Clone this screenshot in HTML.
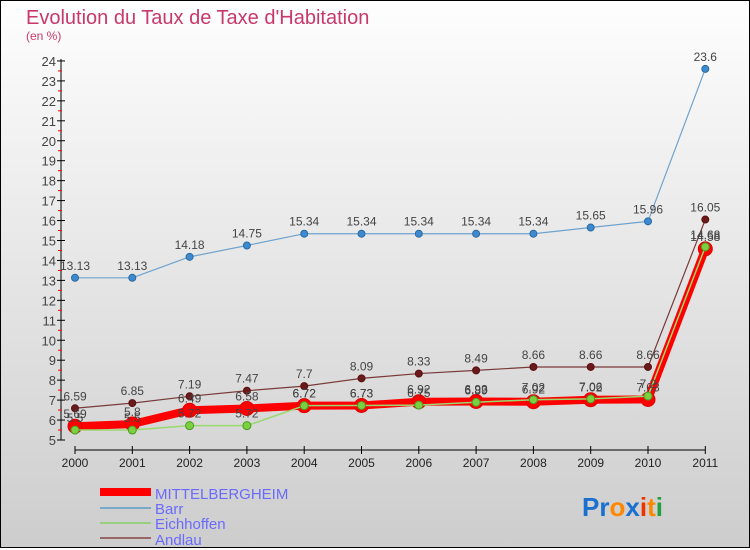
<!DOCTYPE html>
<html><head><meta charset="utf-8"><style>
body{margin:0}
#c{width:750px;height:550px;position:relative;overflow:hidden}
text{font-family:"Liberation Sans",sans-serif}
</style></head><body>
<div id="c">
<svg id="s" width="750" height="550" xmlns="http://www.w3.org/2000/svg">
<defs><linearGradient id="bg" x1="0" y1="0" x2="0" y2="1"><stop offset="0" stop-color="#fefefe"/><stop offset="1" stop-color="#cdcdcd"/></linearGradient></defs>
<rect x="0.5" y="0.5" width="749" height="547" fill="url(#bg)" stroke="#000"/>
<text x="26" y="24" font-size="20" fill="#c8386a">Evolution du Taux de Taxe d'Habitation</text>
<text x="26" y="40" font-size="12" fill="#c8386a">(en %)</text>
<g id="axes"></g><g id="series"></g>
<g>
<rect x="100" y="488" width="51" height="8" fill="#f00"/>
<text x="155" y="499" font-size="15" fill="#6a6aff">MITTELBERGHEIM</text>
<rect x="100" y="507" width="51" height="2" fill="#7aa8c8"/>
<text x="155" y="514" font-size="15" fill="#6a6aff">Barr</text>
<rect x="100" y="522" width="51" height="2" fill="#99d080"/>
<text x="155" y="529" font-size="15" fill="#6a6aff">Eichhoffen</text>
<rect x="100" y="537" width="51" height="2" fill="#986868"/>
<text x="155" y="545" font-size="15" fill="#6a6aff">Andlau</text>
</g>
<g font-size="26" font-weight="bold">
<text x="582" y="516"><tspan fill="#1a70d0">Pr</tspan><tspan fill="#ff8800">o</tspan><tspan fill="#1a70d0">x</tspan><tspan fill="#ee3300">i</tspan><tspan fill="#ff8800">t</tspan><tspan fill="#22a040">i</tspan></text>
</g>
</svg></div>
<script>
const years=["2000","2001","2002","2003","2004","2005","2006","2007","2008","2009","2010","2011"];
const yTicks=[5,6,7,8,9,10,11,12,13,14,15,16,17,18,19,20,21,22,23,24];
const mittel=[5.69,5.8,6.49,6.58,6.72,6.73,6.92,6.93,6.92,7.02,7.03,14.58];
const barr=[13.13,13.13,14.18,14.75,15.34,15.34,15.34,15.34,15.34,15.65,15.96,23.6];
const eich=[5.5,5.5,5.72,5.72,6.72,6.73,6.75,6.89,7.02,7.06,7.2,14.68];
const andlau=[6.59,6.85,7.19,7.47,7.7,8.09,8.33,8.49,8.66,8.66,8.66,16.05];
const NS="http://www.w3.org/2000/svg";
const X=i=>75+i*57.3, Y=v=>440-(v-5)*19.95;
function mk(t,a,p){const e=document.createElementNS(NS,t);for(const k in a)e.setAttribute(k,a[k]);p.appendChild(e);return e;}
const ax=document.getElementById('axes');
let l=mk('line',{x1:61,y1:Y(24)-2,x2:61,y2:Y(5),stroke:'#000'},ax);


l=mk('line',{x1:X(0),y1:450,x2:X(11),y2:450,stroke:'#000'},ax);


yTicks.forEach(v=>{mk('line',{x1:57,y1:Y(v),x2:65,y2:Y(v),stroke:'#000'},ax);
 if(v<24)mk('line',{x1:58,y1:Y(v+0.5),x2:62,y2:Y(v+0.5),stroke:'#f00'},ax);
 const t=mk('text',{x:56,y:Y(v)+5,'text-anchor':'end','font-size':13,fill:'#444'},ax);t.textContent=v;
 
 });
years.forEach((y,i)=>{mk('line',{x1:X(i),y1:446,x2:X(i),y2:454,stroke:'#000'},ax);
 const t=mk('text',{x:X(i),y:467,'text-anchor':'middle','font-size':12,fill:'#222'},ax);t.textContent=y;
 
 });
const sg=document.getElementById('series');
function series(name,d,col,w,r,fill,stroke,lab){
 const g=mk('g',{},sg);
 
 
 mk('polyline',{points:d.map((v,i)=>X(i)+','+Y(v)).join(' '),fill:'none',stroke:col,'stroke-width':w,'stroke-linejoin':'round'},g);
 d.forEach((v,i)=>{const c=mk('circle',{cx:X(i),cy:Y(v),r:r,fill:fill,stroke:stroke,'stroke-width':1},g);
  
  
  const t=mk('text',{x:X(i),y:Y(v)-8,'text-anchor':'middle','font-size':12,fill:'#444'},g);t.textContent=v;
  
  });
}
series('barr',barr,'#6fa3cf',1.2,3.5,'#3d8ad0','#2a6aa0');
series('andlau',andlau,'#7a3a3a',1.2,3.5,'#6a1a1a','#5a1010');
series('mittelbergheim',mittel,'#f00',8,7,'#f00','#d00');
series('eichhoffen',eich,'#9ad870',1.5,4,'#7ad040','#4a9a20');
</script>
</body></html>
